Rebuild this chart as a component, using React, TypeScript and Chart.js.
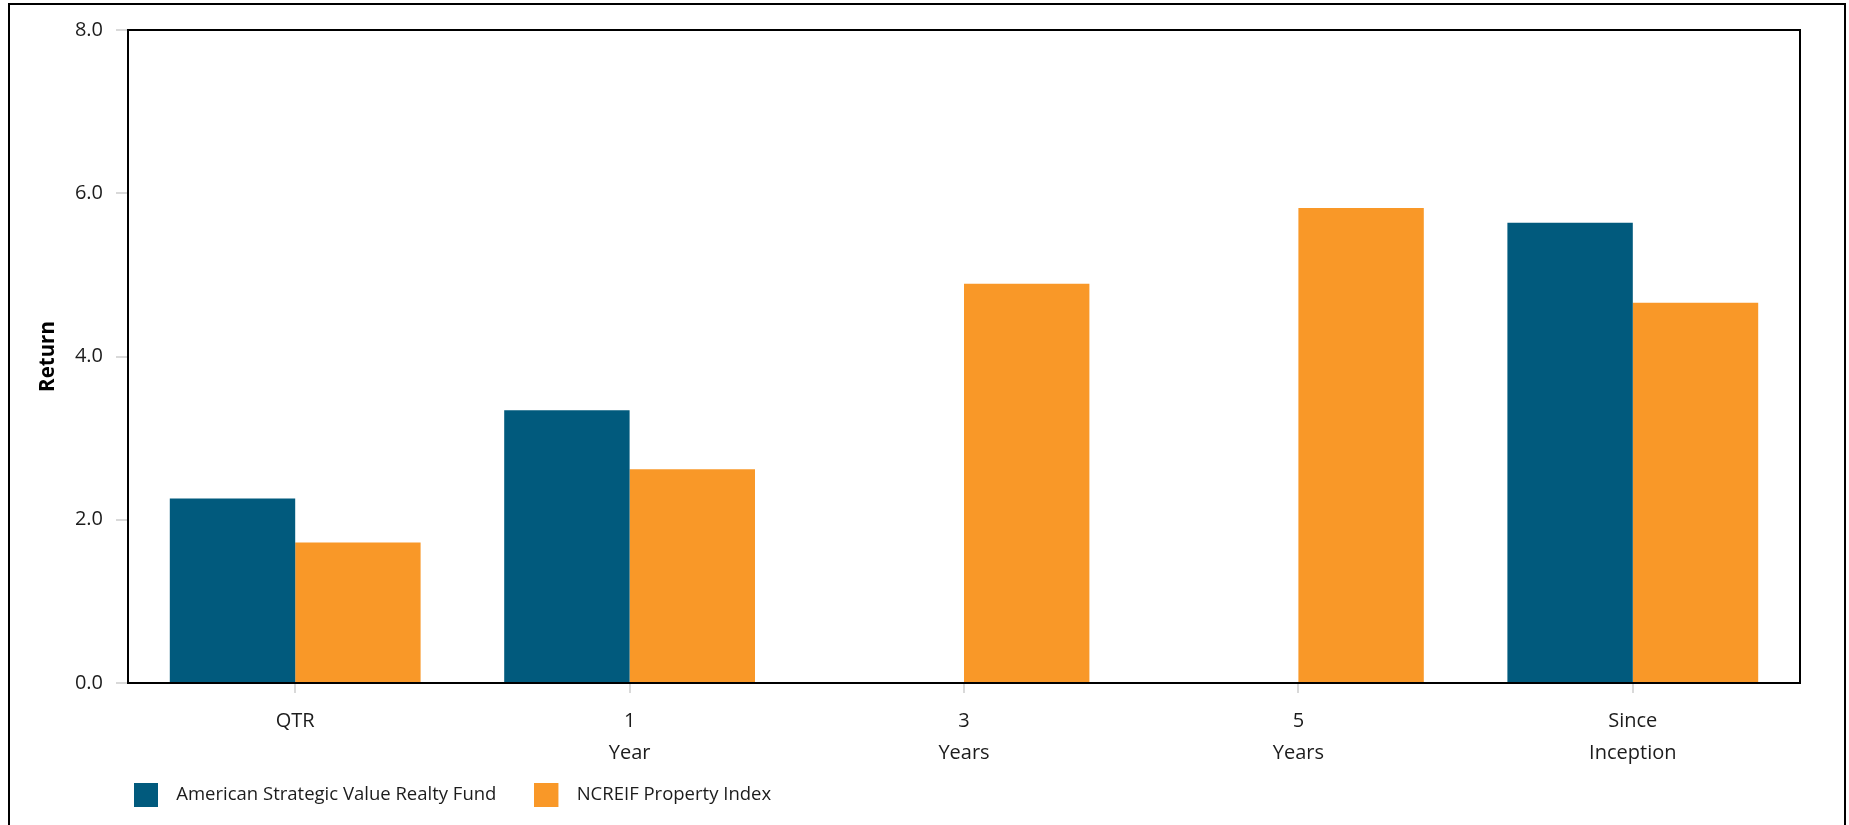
import React, { useEffect, useRef } from "react";
import { Chart, registerables } from "chart.js";

Chart.register(...registerables);

// ---- data ----
const categories: string[][] = [
  ["QTR"],
  ["1", "Year"],
  ["3", "Years"],
  ["5", "Years"],
  ["Since", "Inception"],
];
const seriesNames = ["American Strategic Value Realty Fund", "NCREIF Property Index"];
const fundReturns: (number | null)[] = [2.26, 3.34, null, null, 5.64];
const indexReturns: number[] = [1.72, 2.62, 4.89, 5.82, 4.66];
const yMin = 0;
const yMax = 8;
const yStep = 2;
const yAxisTitle = "Return";

// ---- styles ----
const FUND_COLOR = "#015A7D";
const INDEX_COLOR = "#F99828";
const TEXT_COLOR = "#1c1c1c";
const TICK_COLOR = "#d9d9d9";
const FONT = "'Open Sans', sans-serif";
const SWATCH = 24; // legend square size
const SWATCH_SLOT = 33; // square + gap before text

function makeSwatch(color: string): HTMLCanvasElement {
  const c = document.createElement("canvas");
  c.width = SWATCH_SLOT;
  c.height = SWATCH;
  const g = c.getContext("2d")!;
  g.fillStyle = color;
  g.fillRect(0, 0, SWATCH, SWATCH);
  return c;
}

const plotFrame = {
  id: "plotFrame",
  beforeDatasetsDraw(chart: any) {
    const { ctx, chartArea } = chart;
    const { left, top, right, bottom } = chartArea;
    ctx.save();
    ctx.strokeStyle = "#000";
    ctx.lineWidth = 2;
    ctx.strokeRect(left, top, right - left, bottom - top);
    ctx.restore();
  },
};

const legendPlacer = {
  id: "legendPlacer",
  afterLayout(chart: any) {
    const lg = chart.legend;
    if (!lg) return;
    const pad = lg.options.labels.padding;
    const half = lg.options.labels.font.size / 2;
    const dx = chart.chartArea.left + 6 - pad - lg.left;
    const dy = chart.chartArea.bottom + 112 - half - pad - lg.top;
    lg.left += dx;
    lg.right += dx;
    lg.top += dy;
    lg.bottom += dy;
  },
};

export default function App() {
  const canvasRef = useRef<HTMLCanvasElement | null>(null);

  useEffect(() => {
    document.documentElement.style.overflow = "hidden";
    document.body.style.overflow = "hidden";
    const canvas = canvasRef.current;
    if (!canvas) return;
    const colors = [FUND_COLOR, INDEX_COLOR];
    const swatches = colors.map(makeSwatch);
    const chart = new Chart(canvas, {
      type: "bar",
      data: {
        labels: categories,
        datasets: [
          {
            label: seriesNames[0],
            data: fundReturns,
            backgroundColor: FUND_COLOR,
            borderWidth: 0,
            categoryPercentage: 0.75,
            barPercentage: 1.0,
          },
          {
            label: seriesNames[1],
            data: indexReturns,
            backgroundColor: INDEX_COLOR,
            borderWidth: 0,
            categoryPercentage: 0.75,
            barPercentage: 1.0,
          },
        ],
      },
      options: {
        responsive: false,
        animation: false,
        devicePixelRatio: 1,
        layout: { padding: { top: 21, right: 44, bottom: 0, left: 0 } },
        plugins: {
          title: { display: false },
          tooltip: { enabled: false },
          legend: {
            display: true,
            position: "bottom",
            align: "start",
            labels: {
              usePointStyle: true,
              pointStyleWidth: SWATCH_SLOT,
              boxWidth: SWATCH_SLOT,
              boxHeight: SWATCH,
              padding: 38,
              color: TEXT_COLOR,
              font: { family: FONT, size: 18.5 },
              generateLabels: (ch: any) =>
                ch.data.datasets.map((ds: any, i: number) => ({
                  text: ds.label,
                  fillStyle: ds.backgroundColor,
                  strokeStyle: ds.backgroundColor,
                  lineWidth: 0,
                  hidden: !ch.isDatasetVisible(i),
                  datasetIndex: i,
                  pointStyle: swatches[i],
                  fontColor: TEXT_COLOR,
                })),
            },
          },
        },
        scales: {
          x: {
            type: "category",
            offset: true,
            grid: {
              display: true,
              drawOnChartArea: false,
              drawTicks: true,
              tickLength: 10,
              offset: false,
              color: TICK_COLOR,
              lineWidth: 2,
            },
            border: { display: false },
            ticks: {
              color: TEXT_COLOR,
              padding: 12,
              maxRotation: 0,
              autoSkip: false,
              font: { family: FONT, size: 20, lineHeight: 1.6 },
            },
            afterFit(scale: any) {
              scale.height = 93.5;
            },
          },
          y: {
            min: yMin,
            max: yMax,
            grid: {
              display: true,
              drawOnChartArea: false,
              drawTicks: true,
              tickLength: 12,
              color: TICK_COLOR,
              lineWidth: 2,
            },
            border: { display: false },
            ticks: {
              stepSize: yStep,
              color: TEXT_COLOR,
              padding: 13,
              font: { family: FONT, size: 20 },
              callback: (v: any) => Number(v).toFixed(1),
            },
            title: {
              display: true,
              text: yAxisTitle,
              color: "#000",
              padding: { top: 26, bottom: 0 },
              font: { family: FONT, size: 20.5, weight: "bold" },
            },
            afterFit(scale: any) {
              scale.width = 118;
            },
          },
        },
      },
      plugins: [plotFrame, legendPlacer],
    } as any);
    return () => chart.destroy();
  }, []);

  return (
    <div
      style={{
        position: "fixed",
        left: 8,
        top: 3,
        width: 1838,
        height: 900,
        boxSizing: "border-box",
        border: "2px solid #000",
        background: "#fff",
        overflow: "hidden",
      }}
    >
      <canvas
        ref={canvasRef}
        width={1834}
        height={838}
        style={{ position: "absolute", left: 0, top: 0, display: "block", width: 1834, height: 838 }}
      />
    </div>
  );
}
